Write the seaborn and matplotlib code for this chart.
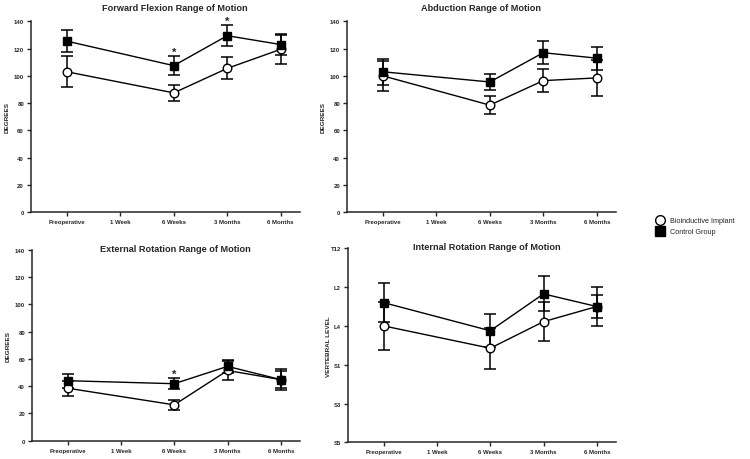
import numpy as np
import pandas as pd
import seaborn as sns
from matplotlib import pyplot as plt
from matplotlib.lines import Line2D

# Tempos de avaliacao (1 Week fica sem dados)
timepoints = ["Preoperative", "1 Week", "6 Weeks", "3 Months", "6 Months"]
measured = ["Preoperative", "6 Weeks", "3 Months", "6 Months"]

groups = ["Bioinductive Implant", "Control Group"]

# Forward flexion (graus)
ff_bio = [103, 87.5, 105.5, 119.5]
ff_bio_sd = [11.5, 6, 8, 10.5]
ff_ctl = [125.5, 107.5, 129.5, 123]
ff_ctl_sd = [8, 7, 7.5, 8]
ff_sig = ["6 Weeks", "3 Months"]

# Abduction (graus)
ab_bio = [100, 78.5, 96.5, 98.5]
ab_bio_sd = [11, 6.5, 8.5, 13]
ab_ctl = [103, 95.5, 117, 113]
ab_ctl_sd = [9.5, 6, 8.5, 8.5]
ab_sig = []

# External rotation (graus)
er_bio = [38.5, 26.3, 51.5, 44.8]
er_bio_sd = [5.5, 3.7, 7, 6]
er_ctl = [44, 41.8, 54.5, 44.8]
er_ctl_sd = [5, 4.2, 4.5, 7.5]
er_sig = ["6 Weeks"]

# Internal rotation (nivel vertebral, S5=0 ... T12=10)
ir_bio = [6.0, 4.85, 6.22, 7.0]
ir_bio_sd = [1.25, 1.05, 1.0, 0.6]
ir_ctl = [7.2, 5.75, 7.65, 7.0]
ir_ctl_sd = [1.0, 0.85, 0.9, 1.0]
ir_sig = []
ir_levels = ["S5", "S3", "S1", "L4", "L2", "T12"]

sns.set_style("ticks")
plt.rcParams['font.family'] = ['Liberation Sans', 'DejaVu Sans']

fig = plt.figure(figsize=(7.5, 4.6), dpi=100)


def painel(rect, titulo, bio, bio_sd, ctl, ctl_sd, sig, ylabel, title_x, title_y):
    ax = fig.add_axes(rect)
    pos = [timepoints.index(t) for t in measured]
    df = pd.DataFrame({
        "pos": pos * 2,
        "valor": bio + ctl,
        "sd": bio_sd + ctl_sd,
        "grupo": [groups[0]] * 4 + [groups[1]] * 4,
    })
    for g in groups:
        sub = df[df["grupo"] == g]
        ax.errorbar(sub["pos"], sub["valor"], yerr=sub["sd"], fmt="none",
                    ecolor="black", elinewidth=1.1, capsize=4, capthick=1.1, zorder=2)
    estilo = {groups[0]: dict(marker="o", mfc="white", ms=6.2),
              groups[1]: dict(marker="s", mfc="black", ms=5.6)}
    for g in groups:
        sub = df[df["grupo"] == g]
        sns.lineplot(data=sub, x="pos", y="valor", ax=ax, color="black", lw=1.0,
                     mec="black", mew=1.0, zorder=3, **estilo[g])
    # asteriscos de significancia
    for t in sig:
        i = measured.index(t)
        ax.text(timepoints.index(t), ctl[i] + ctl_sd[i] + 1.0, "*", ha="center",
                va="baseline", fontsize=8, fontweight="bold", clip_on=False)
    ax.set_xlim(-0.67, 4.36)
    ax.set_xticks(range(len(timepoints)))
    ax.set_xticklabels(timepoints, fontsize=4.3, fontweight="bold")
    ax.set_xlabel("")
    ax.set_ylabel(ylabel, fontsize=4.6, fontweight="bold")
    ax.text(title_x, title_y, titulo, transform=ax.transAxes, ha="center",
            va="center", fontsize=6.6, fontweight="bold")
    for s in ["top", "right"]:
        ax.spines[s].set_visible(False)
    for s in ["left", "bottom"]:
        ax.spines[s].set_linewidth(1.1)
    ax.tick_params(axis="both", width=1.0, length=3, pad=2)
    ax.tick_params(axis="y", labelsize=4.3)
    for lab in ax.get_yticklabels():
        lab.set_fontweight("bold")
    return ax


ax1 = painel([0.0413, 0.537, 0.3587, 0.4143], "Forward Flexion Range of Motion",
             ff_bio, ff_bio_sd, ff_ctl, ff_ctl_sd, ff_sig, "DEGREES", 0.535, 1.075)
ax2 = painel([0.4627, 0.537, 0.3587, 0.4143], "Abduction Range of Motion",
             ab_bio, ab_bio_sd, ab_ctl, ab_ctl_sd, ab_sig, "DEGREES", 0.498, 1.075)
ax3 = painel([0.0427, 0.0397, 0.3573, 0.4152], "External Rotation Range of Motion",
             er_bio, er_bio_sd, er_ctl, er_ctl_sd, er_sig, "DEGREES", 0.535, 1.007)
ax4 = painel([0.464, 0.0363, 0.3573, 0.4217], "Internal Rotation Range of Motion",
             ir_bio, ir_bio_sd, ir_ctl, ir_ctl_sd, ir_sig, "VERTEBRAL LEVEL", 0.517, 1.010)

for ax in [ax1, ax2, ax3]:
    ax.set_ylim(0, 140)
    ax.set_yticks(range(0, 141, 20))
    ax.set_yticklabels([str(v) for v in range(0, 141, 20)], fontsize=4.3, fontweight="bold")
    ax.yaxis.set_label_coords(-0.078, 0.5)

ax4.set_ylim(0, 10)
ax4.set_yticks(range(0, 11, 2))
ax4.set_yticklabels(ir_levels, fontsize=4.3, fontweight="bold")
ax4.yaxis.set_label_coords(-0.065, 0.5)

# legenda
handles = [Line2D([], [], color="black", marker="o", mfc="white", mec="black", ms=7, mew=1.0, ls="none"),
           Line2D([], [], color="black", marker="s", mfc="black", mec="black", ms=6.5, ls="none")]
fig.legend(handles, groups, loc="center left", bbox_to_anchor=(0.866, 0.506), frameon=False,
           fontsize=5.2, handletextpad=0.5, labelspacing=0.6, borderaxespad=0)

plt.savefig("out.png", dpi=100)
